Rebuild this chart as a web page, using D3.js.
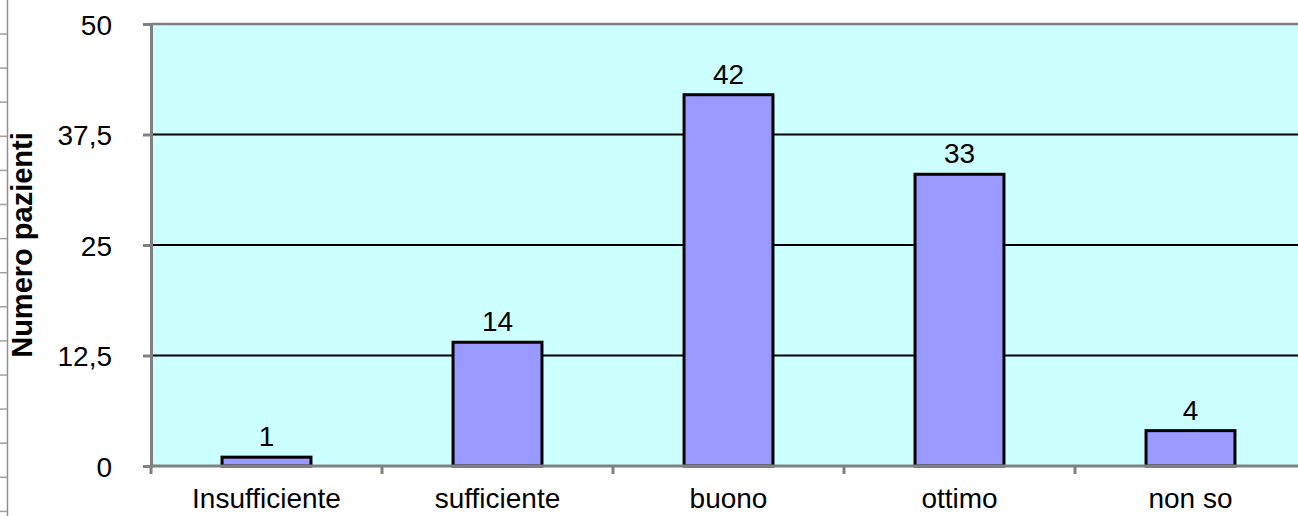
<!DOCTYPE html>
<html>
<head>
<meta charset="utf-8">
<script src="https://cdn.jsdelivr.net/npm/d3@7"></script>
<style>
    body { margin: 0; background: #fff; overflow: hidden; }
    text { font-family: "Liberation Sans", Arial, sans-serif; fill: #000; }
</style>
</head>
<body>
<svg id="chart" width="1298" height="516"></svg>
<script>
//  data
const categories = ["Insufficiente", "sufficiente", "buono", "ottimo", "non so"];
const patients = [1, 14, 42, 33, 4];
const yTicks = [0, 12.5, 25, 37.5, 50];
const yTitle = "Numero pazienti";

const plot = {left: 151, right: 1306, top: 24, bottom: 466};
const fontSize = 28;

const svg = d3.select("#chart");

const x = d3.scaleBand()
    .domain(categories)
    .range([plot.left, plot.right])
    .paddingInner(0.615)
    .paddingOuter(0.3075);

const y = d3.scaleLinear()
    .domain([0, 50])
    .range([plot.bottom, plot.top]);

//  the little ruler at the far left (spreadsheet leftover)
const rulerTicks = d3.range(34, 516, 34.1);
svg.append("line")
    .attr("x1", 7.5).attr("x2", 7.5)
    .attr("y1", 0).attr("y2", 516)
    .attr("stroke", "#909090").attr("stroke-width", 1.5);
svg.selectAll(".ruler")
    .data(rulerTicks)
    .join("line")
    .attr("class", "ruler")
    .attr("x1", 0).attr("x2", 7)
    .attr("y1", d => d).attr("y2", d => d)
    .attr("stroke", "#a0a0a0").attr("stroke-width", 1.5);

//  plot area
svg.append("rect")
    .attr("x", plot.left).attr("y", plot.top)
    .attr("width", plot.right - plot.left)
    .attr("height", plot.bottom - plot.top)
    .attr("fill", "#ccffff");

//  gridlines
svg.selectAll(".grid")
    .data(yTicks.filter(d => d > 0 && d < 50))
    .join("line")
    .attr("class", "grid")
    .attr("x1", plot.left).attr("x2", plot.right)
    .attr("y1", d => y(d)).attr("y2", d => y(d))
    .attr("stroke", "#000").attr("stroke-width", 2);

//  top border
svg.append("line")
    .attr("x1", plot.left).attr("x2", plot.right)
    .attr("y1", y(50)).attr("y2", y(50))
    .attr("stroke", "#808080").attr("stroke-width", 2.5);

//  bars
svg.selectAll(".bar")
    .data(patients)
    .join("rect")
    .attr("class", "bar")
    .attr("x", (d, i) => x(categories[i]))
    .attr("y", d => y(d))
    .attr("width", x.bandwidth())
    .attr("height", d => y(0) - y(d))
    .attr("fill", "#9999ff")
    .attr("stroke", "#000")
    .attr("stroke-width", 3);

//  value labels
svg.selectAll(".val")
    .data(patients)
    .join("text")
    .attr("class", "val")
    .attr("x", (d, i) => x(categories[i]) + x.bandwidth() / 2)
    .attr("y", d => y(d) - 11)
    .attr("text-anchor", "middle")
    .attr("font-size", fontSize)
    .text(d => d);

//  y axis
const yAxis = d3.axisLeft(y)
    .tickValues(yTicks)
    .tickSize(8)
    .tickPadding(31)
    .tickFormat(d => String(d).replace(".", ","));

const yg = svg.append("g")
    .attr("transform", `translate(${plot.left},0)`)
    .call(yAxis);
yg.selectAll("text").attr("font-size", fontSize).attr("dy", "0.36em");

//  x axis, ticks at the category boundaries
const bounds = d3.range(categories.length + 1).map(i => plot.left + i * x.step());
const xg = svg.append("g");
xg.selectAll(".xtick")
    .data(bounds)
    .join("line")
    .attr("class", "xtick")
    .attr("x1", d => d).attr("x2", d => d)
    .attr("y1", plot.bottom).attr("y2", plot.bottom + 8);
xg.append("line")
    .attr("x1", plot.left).attr("x2", plot.right)
    .attr("y1", plot.bottom).attr("y2", plot.bottom);
xg.selectAll("line").attr("stroke", "#808080").attr("stroke-width", 3);

xg.selectAll(".xlab")
    .data(categories)
    .join("text")
    .attr("class", "xlab")
    .attr("x", d => x(d) + x.bandwidth() / 2)
    .attr("y", 508)
    .attr("text-anchor", "middle")
    .attr("font-size", fontSize)
    .text(d => d);

//  style y axis like the rest
yg.select(".domain").attr("stroke", "#808080").attr("stroke-width", 3);
yg.selectAll(".tick line").attr("stroke", "#808080").attr("stroke-width", 3);

//  y title
svg.append("text")
    .attr("transform", `translate(32,${(plot.top + plot.bottom) / 2}) rotate(-90)`)
    .attr("text-anchor", "middle")
    .attr("font-size", 29)
    .attr("font-weight", "bold")
    .text(yTitle);
</script>
</body>
</html>
